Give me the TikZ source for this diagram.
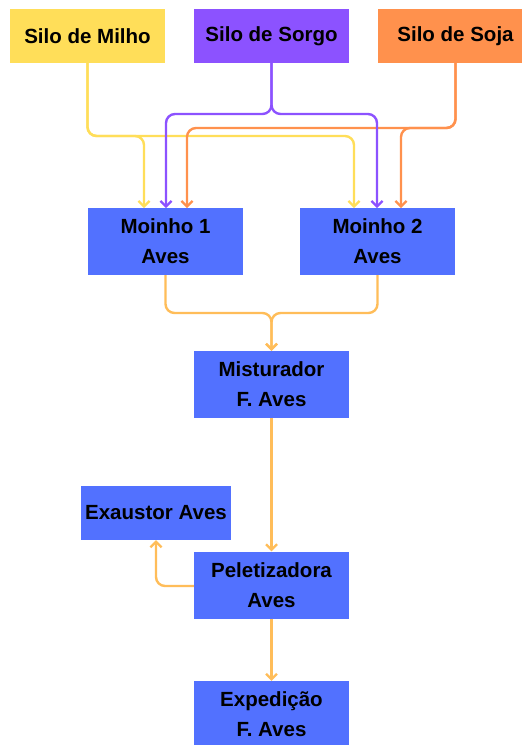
\documentclass[tikz,border=0pt]{standalone}
\usepackage{fontspec}
\setmainfont{Liberation Sans}
\usetikzlibrary{arrows.meta}
\definecolor{cyel}{HTML}{FFDE59}
\definecolor{cpur}{HTML}{8C52FF}
\definecolor{cora}{HTML}{FF914D}
\definecolor{cblu}{HTML}{5271FF}
\definecolor{clor}{HTML}{FFBD59}
\begin{document}
\begin{tikzpicture}[x=1pt,y=1pt,
  box/.style={draw=none, minimum width=155pt, minimum height=67pt, inner sep=0pt, align=center,
     font=\fontsize{20.5}{30}\selectfont\bfseries, text=black},
  silo/.style={box, minimum height=54pt},
  conn/.style={line width=2.4pt, rounded corners=9pt, -{Straight Barb[length=5.5pt,width=11pt,line width=2.2pt]}}]
\useasboundingbox (0,0) rectangle (522,-745);
\fill[white] (0,0) rectangle (522,-745);
% nodes
\node[silo, fill=cyel] (milho) at (87.5,-36) {Silo de Milho};
\node[silo, fill=cpur] (sorgo) at (271.5,-36) {Silo de Sorgo};
\node[silo, fill=cora] (soja) at (455.5,-36) {Silo de Soja};
\node[box, fill=cblu] (m1) at (165.5,-241.5) {Moinho 1\\Aves};
\node[box, fill=cblu] (m2) at (377.5,-241.5) {Moinho 2\\Aves};
\node[box, fill=cblu] (mist) at (271.5,-384.5) {Misturador\\F. Aves};
\node[box, fill=cblu, minimum width=150pt, minimum height=54pt] (exa) at (156,-513) {Exaustor Aves};
\node[box, fill=cblu] (pel) at (271.5,-585) {Peletizadora\\Aves};
\node[box, fill=cblu] (exp) at (271.5,-714.5) {Expedição\\F. Aves};
% entry points
\coordinate (m1a) at (144,-208);
\coordinate (m1b) at (166,-208);
\coordinate (m1c) at (187,-208);
\coordinate (m2a) at (354,-208);
\coordinate (m2b) at (377,-208);
\coordinate (m2c) at (401,-208);
% silo connectors
\draw[conn, draw=cyel] (milho.south) |- (m1a |- 0,-136) -- (m1a);
\draw[conn, draw=cyel] (milho.south) |- (m2a |- 0,-136) -- (m2a);
\draw[conn, draw=cora] (soja.south) |- (m1c |- 0,-128) -- (m1c);
\draw[conn, draw=cora] (soja.south) |- (m2c |- 0,-128) -- (m2c);
\draw[conn, draw=cpur] (sorgo.south) |- (m1b |- 0,-114) -- (m1b);
\draw[conn, draw=cpur] (sorgo.south) |- (m2b |- 0,-114) -- (m2b);
% mill to mixer
\draw[conn, draw=clor] (m1.south) |- (mist.north |- 0,-313) -- (mist.north);
\draw[conn, draw=clor] (m2.south) |- (mist.north |- 0,-313) -- (mist.north);
\draw[conn, draw=clor] (mist.south) -- (pel.north);
\draw[conn, draw=clor] (pel.west |- 0,-586) -| (exa.south);
\draw[conn, draw=clor] (pel.south) -- (exp.north);
\end{tikzpicture}
\end{document}
